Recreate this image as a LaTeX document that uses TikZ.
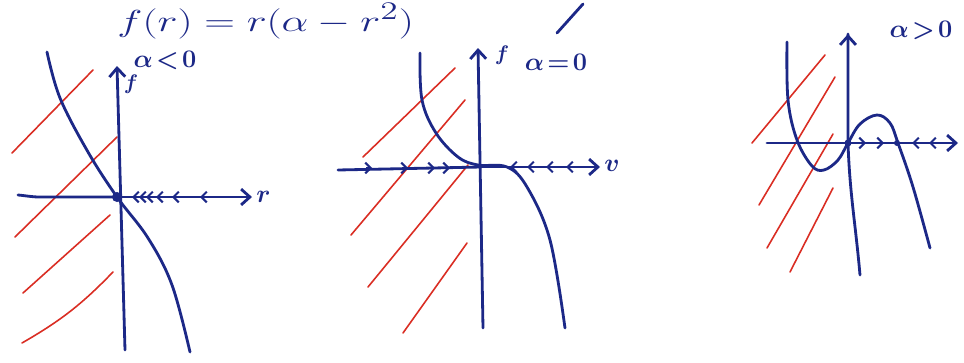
\documentclass[tikz,border=0pt]{standalone}
\usetikzlibrary{arrows.meta}
\definecolor{inkblue}{RGB}{28,40,135}
\definecolor{inkred}{RGB}{218,45,35}
\tikzset{
  ink/.style={draw=inkblue, line width=1.6pt, line cap=round, line join=round},
  hatch/.style={draw=inkred, line width=0.9pt, line cap=round},
  axisarrow/.style={ink, -{Straight Barb[length=5pt,width=9pt]}},
  chev/.style={draw=inkblue, line width=1.2pt, -{Straight Barb[length=3pt,width=6pt]}},
  lab/.style={text=inkblue, font=\fontsize{15}{17}\selectfont\boldmath, inner sep=0pt},
  dotst/.style={fill=inkblue, draw=none}
}
\begin{document}
\begin{tikzpicture}[x=0.02cm, y=-0.02cm]
\useasboundingbox (0,0) rectangle (964,362);
\fill[white] (0,0) rectangle (964,362);

% top formula
\node[text=inkblue, anchor=base west, inner sep=0pt, xscale=1.4, font=\fontsize{19}{21}\selectfont] (formula) at (117,31) {$f(r) = r(\alpha - r^2)$};
\coordinate (sA) at (557,33); \coordinate (sB) at (583,4);
\draw[ink] (sA) -- (sB);
\draw[ink] (642,-6) arc[start angle=200, end angle=330, radius=14];

% ===== panel 1: alpha < 0 =====
\coordinate (o1) at (117,197);
\coordinate (v1b) at (125,350); \coordinate (v1t) at (117,66);
\coordinate (h1l) at (18,195); \coordinate (h1r) at (252,197);
\draw[hatch] (12,153) -- (93,70);
\draw[hatch] (15,237) -- (117,137);
\draw[hatch] (23,293) -- (110,215);
\draw[hatch] (22,343) to[bend right=8] (113,272);
\draw[axisarrow] (v1b) -- (v1t);
\draw[ink] (h1l) to[out=-5,in=180] (40,197) -- (o1);
\draw[axisarrow] (o1) -- (h1r);
\foreach \x in {132,139,146,156,172,200}
  \draw[chev] (\x+6,197) -- (\x,197);
\draw[ink] plot[smooth, tension=0.6] coordinates {(47,52) (60,98) (88,152) (117,197) (148,238) (172,285) (190,352)};
\fill[dotst] (o1) circle (5);
\node[lab, anchor=west] (r1) at (256,197) {$r$};
\node[lab] (a1) at (165,60) {$\alpha\!<\!0$};
\node[lab, font=\fontsize{12}{14}\selectfont\boldmath] (f1) at (131,84) {$f$};

% ===== panel 2: alpha = 0 =====
\coordinate (o2) at (481,167);
\coordinate (v2b) at (483,328); \coordinate (v2t) at (478,48);
\coordinate (h2l) at (338,170); \coordinate (h2r) at (600,167);
\draw[hatch] (363,157) -- (455,68);
\draw[hatch] (351,235) -- (465,100);
\draw[hatch] (368,287) -- (468,165);
\draw[hatch] (403,333) -- (467,243);
\draw[axisarrow] (v2b) -- (v2t);
\draw[ink] (h2l) -- (o2);
\draw[axisarrow] (o2) -- (h2r);
\foreach \x in {372,408,435,450}
  \draw[chev] (\x-6,168) -- (\x,168);
\foreach \x in {510,527,546,566}
  \draw[chev] (\x+6,167) -- (\x,167);
\draw[ink] plot[smooth, tension=0.6] coordinates {(420,53) (422,100) (436,133) (458,157) (478,165) (507,167) (527,187) (550,240) (565,328)};
\node[lab, anchor=west] (r2) at (604,166) {$v$};
\node[lab] (a2) at (556,62) {$\alpha\!=\!0$};
\node[lab, font=\fontsize{12}{14}\selectfont\boldmath] (f2) at (502,55) {$f$};

% ===== panel 3: alpha > 0 =====
\coordinate (o3) at (848,143);
\coordinate (p3) at (897,143);
\coordinate (v3b) at (860,275); \coordinate (v3t) at (848,34);
\coordinate (h3l) at (767,143); \coordinate (h3r) at (958,143);
\draw[hatch] (752,143) -- (825,55);
\draw[hatch] (759,205) -- (835,77);
\draw[hatch] (767,248) -- (833,134);
\draw[hatch] (790,272) -- (833,188);
\draw[ink] (v3b) to[out=95,in=-88] (848,143) -- (v3t);
\draw[axisarrow] (848,60) -- (v3t);
\draw[ink] (h3l) -- (o3);
\draw[axisarrow] (o3) -- (h3r);
\foreach \x in {866,884}
  \draw[chev] (\x-6,143) -- (\x,143);
\foreach \x in {912,929}
  \draw[chev] (\x+6,143) -- (\x,143);
\draw[ink] plot[smooth, tension=0.6] coordinates {(787,42) (788,100) (797,140) (812,166) (824,170) (838,160) (848,143) (860,124) (877,115) (890,123) (898,143) (913,187) (930,248)};
\fill[dotst] (o3) circle (3.5);
\fill[dotst] (p3) circle (3);
\node[lab] (a3) at (921,30) {$\alpha\!>\!0$};
\end{tikzpicture}
\end{document}
